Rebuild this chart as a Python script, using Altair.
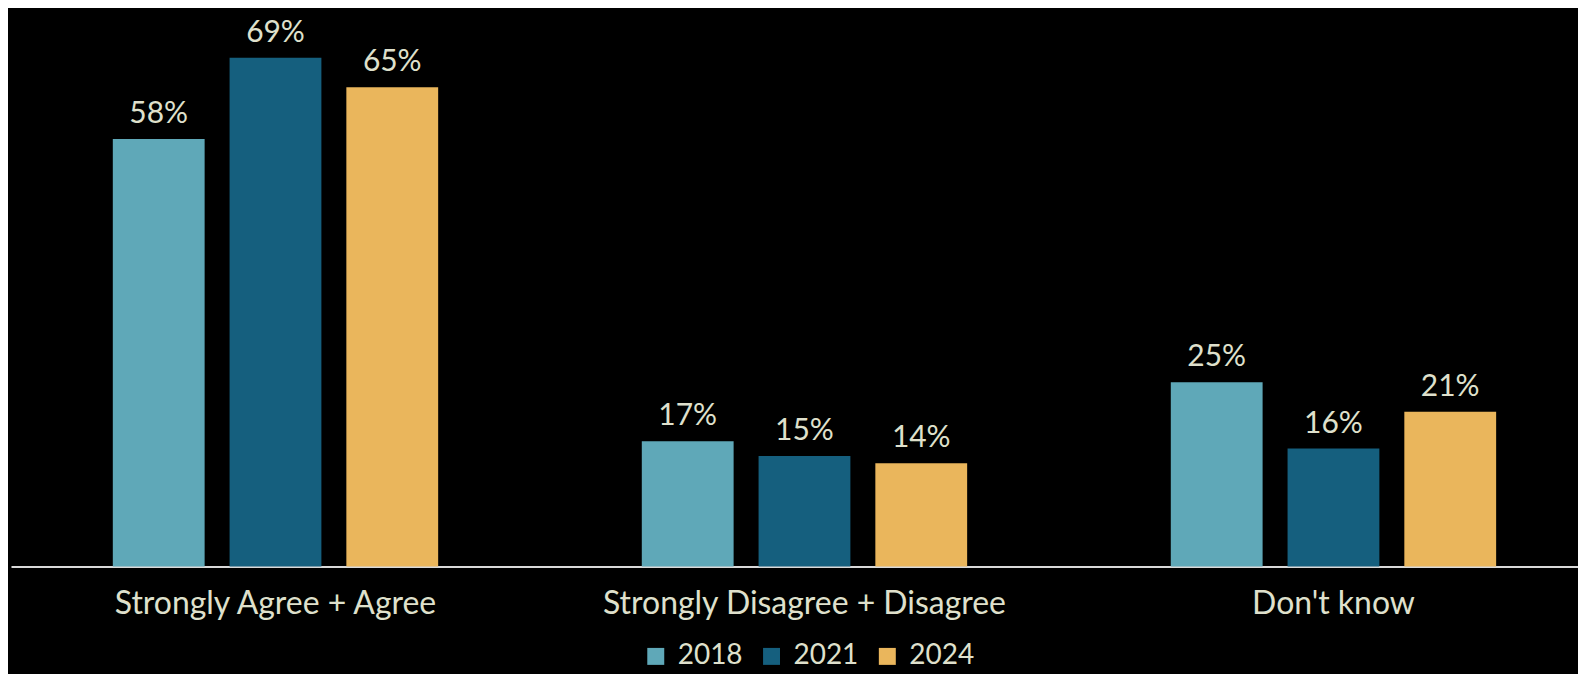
import altair as alt
import pandas as pd

categories = ["Strongly Agree + Agree", "Strongly Disagree + Disagree", "Don't know"]
years = ["2018", "2021", "2024"]
values_2018 = [58, 17, 25]
values_2021 = [69, 15, 16]
values_2024 = [65, 14, 21]
colors = ["#5fa8b8", "#155f7e", "#eab65c"]

rows = []
for i, c in enumerate(categories):
    for y, vals in zip(years, [values_2018, values_2021, values_2024]):
        rows.append({"category": c, "year": y, "value": vals[i], "label": f"{vals[i]}%"})
df = pd.DataFrame(rows)

FONT = "Lato"
TXT = "#dfe0cc"

x = alt.X("category:N", sort=categories,
          scale=alt.Scale(range=[0, 1590], paddingInner=0, paddingOuter=0),
          axis=alt.Axis(title=None, labelAngle=0, ticks=False, domainColor="#d9d9d9",
                        domainWidth=2, labelFontSize=32, labelColor=TXT, labelFont=FONT,
                        labelPadding=22, labelLimit=800, grid=False))
xo = alt.XOffset("year:N", sort=years,
                 scale=alt.Scale(paddingInner=0.2137, paddingOuter=0.872))
y = alt.Y("value:Q", scale=alt.Scale(domain=[0, 75], nice=False), axis=None)

bars = alt.Chart(df).mark_bar().encode(
    x=x, xOffset=xo, y=y,
    color=alt.Color("year:N", sort=years,
                    scale=alt.Scale(domain=years, range=colors),
                    legend=alt.Legend(title=None, orient="none", legendX=632, legendY=630,
                                      direction="horizontal", symbolType="square",
                                      symbolSize=289, symbolStrokeWidth=0,
                                      labelFontSize=28, labelColor=TXT, labelFont=FONT,
                                      labelOffset=8, columnPadding=15, padding=0)),
)

labels = alt.Chart(df).mark_text(fontSize=30, font=FONT, color=TXT, dy=-16,
                                 baseline="alphabetic").encode(
    x=x, xOffset=xo, y=y, text="label:N"
)

chart = (bars + labels).properties(
    width=1570, height=554, background="#000000",
    padding={"left": 3, "top": 5, "right": 0, "bottom": 107},
    autosize=alt.AutoSizeParams(type="none"),
).configure_view(stroke=None)

chart.save("out.html", embed_options={"renderer": "svg", "actions": False})
